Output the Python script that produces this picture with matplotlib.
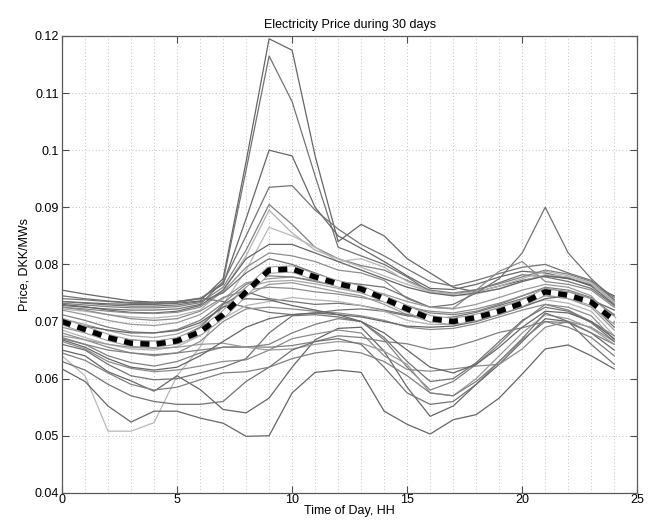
import matplotlib
matplotlib.use("Agg")
import matplotlib.pyplot as plt
from matplotlib.ticker import MultipleLocator

plt.rcParams['font.family'] = ['Liberation Sans', 'DejaVu Sans']

hours = list(range(25))

# hourly prices, one row per day
day_prices = [
    [0.0735, 0.0733, 0.0731, 0.0730, 0.0730, 0.0732, 0.0736, 0.0775, 0.0980, 0.1195, 0.1175, 0.0990, 0.0840, 0.0870, 0.0850, 0.0810, 0.0785, 0.0760, 0.0752, 0.0762, 0.0772, 0.0780, 0.0775, 0.0765, 0.0735],
    [0.0728, 0.0725, 0.0722, 0.0720, 0.0720, 0.0722, 0.0730, 0.0770, 0.0965, 0.1165, 0.1085, 0.0955, 0.0830, 0.0815, 0.0800, 0.0778, 0.0752, 0.0748, 0.0755, 0.0768, 0.0782, 0.0778, 0.0770, 0.0758, 0.0728],
    [0.0755, 0.0748, 0.0742, 0.0736, 0.0734, 0.0735, 0.0740, 0.0765, 0.0880, 0.1000, 0.0990, 0.0900, 0.0850, 0.0828, 0.0805, 0.0780, 0.0758, 0.0756, 0.0765, 0.0778, 0.0788, 0.0785, 0.0776, 0.0764, 0.0745],
    [0.0740, 0.0738, 0.0735, 0.0732, 0.0731, 0.0733, 0.0740, 0.0768, 0.0850, 0.0935, 0.0938, 0.0895, 0.0862, 0.0835, 0.0815, 0.0792, 0.0770, 0.0762, 0.0772, 0.0784, 0.0795, 0.0800, 0.0785, 0.0772, 0.0742],
    [0.0732, 0.0729, 0.0726, 0.0724, 0.0724, 0.0726, 0.0733, 0.0760, 0.0825, 0.0905, 0.0870, 0.0830, 0.0810, 0.0798, 0.0790, 0.0772, 0.0755, 0.0750, 0.0756, 0.0766, 0.0778, 0.0790, 0.0783, 0.0770, 0.0738],
    [0.0722, 0.0718, 0.0712, 0.0708, 0.0706, 0.0710, 0.0720, 0.0755, 0.0815, 0.0895, 0.0855, 0.0825, 0.0810, 0.0795, 0.0780, 0.0765, 0.0752, 0.0748, 0.0752, 0.0762, 0.0775, 0.0788, 0.0780, 0.0768, 0.0735],
    [0.0640, 0.0605, 0.0508, 0.0508, 0.0523, 0.0605, 0.0655, 0.0730, 0.0790, 0.0865, 0.0850, 0.0830, 0.0805, 0.0810, 0.0795, 0.0770, 0.0752, 0.0745, 0.0748, 0.0758, 0.0770, 0.0782, 0.0778, 0.0766, 0.0732],
    [0.0730, 0.0726, 0.0720, 0.0716, 0.0715, 0.0718, 0.0728, 0.0755, 0.0810, 0.0835, 0.0835, 0.0820, 0.0805, 0.0790, 0.0775, 0.0760, 0.0750, 0.0745, 0.0750, 0.0757, 0.0770, 0.0780, 0.0776, 0.0762, 0.0730],
    [0.0725, 0.0722, 0.0718, 0.0715, 0.0714, 0.0716, 0.0725, 0.0752, 0.0795, 0.0820, 0.0815, 0.0805, 0.0790, 0.0785, 0.0772, 0.0740, 0.0725, 0.0723, 0.0755, 0.0788, 0.0805, 0.0770, 0.0765, 0.0755, 0.0725],
    [0.0735, 0.0732, 0.0729, 0.0727, 0.0727, 0.0729, 0.0735, 0.0750, 0.0785, 0.0810, 0.0800, 0.0785, 0.0770, 0.0765, 0.0760, 0.0742, 0.0725, 0.0730, 0.0750, 0.0775, 0.0820, 0.0900, 0.0820, 0.0775, 0.0738],
    [0.0745, 0.0740, 0.0736, 0.0733, 0.0733, 0.0735, 0.0741, 0.0735, 0.0725, 0.0716, 0.0712, 0.0715, 0.0720, 0.0722, 0.0718, 0.0710, 0.0705, 0.0708, 0.0716, 0.0728, 0.0740, 0.0755, 0.0752, 0.0740, 0.0712],
    [0.0720, 0.0712, 0.0702, 0.0695, 0.0693, 0.0698, 0.0712, 0.0740, 0.0768, 0.0775, 0.0778, 0.0772, 0.0765, 0.0758, 0.0748, 0.0735, 0.0725, 0.0722, 0.0730, 0.0742, 0.0755, 0.0765, 0.0760, 0.0745, 0.0700],
    [0.0712, 0.0702, 0.0690, 0.0682, 0.0680, 0.0686, 0.0702, 0.0732, 0.0765, 0.0780, 0.0778, 0.0770, 0.0762, 0.0755, 0.0742, 0.0728, 0.0715, 0.0712, 0.0718, 0.0730, 0.0745, 0.0760, 0.0755, 0.0742, 0.0710],
    [0.0705, 0.0695, 0.0684, 0.0675, 0.0672, 0.0678, 0.0694, 0.0725, 0.0760, 0.0770, 0.0772, 0.0766, 0.0758, 0.0750, 0.0738, 0.0722, 0.0708, 0.0705, 0.0712, 0.0725, 0.0738, 0.0752, 0.0748, 0.0735, 0.0695],
    [0.0725, 0.0720, 0.0712, 0.0705, 0.0702, 0.0705, 0.0718, 0.0742, 0.0755, 0.0760, 0.0758, 0.0752, 0.0748, 0.0742, 0.0735, 0.0725, 0.0718, 0.0715, 0.0722, 0.0732, 0.0745, 0.0758, 0.0752, 0.0738, 0.0698],
    [0.0690, 0.0680, 0.0668, 0.0660, 0.0658, 0.0665, 0.0685, 0.0718, 0.0745, 0.0765, 0.0768, 0.0760, 0.0752, 0.0745, 0.0730, 0.0712, 0.0700, 0.0698, 0.0705, 0.0718, 0.0730, 0.0745, 0.0740, 0.0725, 0.0685],
    [0.0698, 0.0688, 0.0675, 0.0668, 0.0665, 0.0670, 0.0690, 0.0730, 0.0752, 0.0740, 0.0735, 0.0730, 0.0732, 0.0728, 0.0720, 0.0712, 0.0705, 0.0702, 0.0710, 0.0722, 0.0735, 0.0748, 0.0745, 0.0730, 0.0690],
    [0.0685, 0.0672, 0.0660, 0.0652, 0.0650, 0.0656, 0.0675, 0.0705, 0.0728, 0.0735, 0.0742, 0.0738, 0.0735, 0.0728, 0.0718, 0.0702, 0.0695, 0.0695, 0.0703, 0.0715, 0.0728, 0.0738, 0.0732, 0.0718, 0.0675],
    [0.0680, 0.0668, 0.0655, 0.0645, 0.0640, 0.0645, 0.0665, 0.0700, 0.0722, 0.0725, 0.0722, 0.0718, 0.0715, 0.0710, 0.0702, 0.0690, 0.0686, 0.0688, 0.0696, 0.0708, 0.0720, 0.0730, 0.0725, 0.0710, 0.0668],
    [0.0700, 0.0692, 0.0685, 0.0680, 0.0680, 0.0684, 0.0698, 0.0725, 0.0740, 0.0738, 0.0728, 0.0720, 0.0712, 0.0708, 0.0700, 0.0692, 0.0690, 0.0692, 0.0700, 0.0712, 0.0725, 0.0740, 0.0745, 0.0738, 0.0720],
    [0.0617, 0.0595, 0.0552, 0.0524, 0.0543, 0.0543, 0.0531, 0.0522, 0.0499, 0.0500, 0.0575, 0.0611, 0.0615, 0.0611, 0.0543, 0.0520, 0.0503, 0.0528, 0.0537, 0.0566, 0.0608, 0.0652, 0.0659, 0.0640, 0.0617],
    [0.0650, 0.0640, 0.0612, 0.0596, 0.0578, 0.0605, 0.0581, 0.0546, 0.0540, 0.0566, 0.0620, 0.0668, 0.0688, 0.0690, 0.0648, 0.0585, 0.0534, 0.0552, 0.0590, 0.0625, 0.0665, 0.0705, 0.0700, 0.0680, 0.0650],
    [0.0665, 0.0652, 0.0630, 0.0618, 0.0612, 0.0615, 0.0622, 0.0630, 0.0633, 0.0650, 0.0670, 0.0678, 0.0685, 0.0680, 0.0640, 0.0616, 0.0613, 0.0617, 0.0622, 0.0625, 0.0652, 0.0690, 0.0700, 0.0690, 0.0665],
    [0.0672, 0.0660, 0.0640, 0.0628, 0.0622, 0.0630, 0.0645, 0.0655, 0.0655, 0.0660, 0.0680, 0.0695, 0.0705, 0.0700, 0.0668, 0.0620, 0.0580, 0.0595, 0.0625, 0.0660, 0.0700, 0.0730, 0.0720, 0.0700, 0.0675],
    [0.0660, 0.0650, 0.0625, 0.0605, 0.0598, 0.0600, 0.0610, 0.0620, 0.0635, 0.0680, 0.0710, 0.0712, 0.0708, 0.0700, 0.0672, 0.0630, 0.0595, 0.0600, 0.0628, 0.0665, 0.0702, 0.0725, 0.0718, 0.0698, 0.0665],
    [0.0670, 0.0660, 0.0650, 0.0645, 0.0642, 0.0645, 0.0650, 0.0655, 0.0656, 0.0655, 0.0658, 0.0665, 0.0675, 0.0672, 0.0665, 0.0661, 0.0651, 0.0655, 0.0667, 0.0681, 0.0689, 0.0700, 0.0698, 0.0680, 0.0660],
    [0.0675, 0.0668, 0.0660, 0.0655, 0.0653, 0.0655, 0.0660, 0.0662, 0.0655, 0.0650, 0.0652, 0.0660, 0.0665, 0.0662, 0.0648, 0.0625, 0.0575, 0.0570, 0.0600, 0.0640, 0.0680, 0.0712, 0.0705, 0.0688, 0.0660],
    [0.0630, 0.0615, 0.0590, 0.0570, 0.0560, 0.0555, 0.0555, 0.0560, 0.0595, 0.0620, 0.0650, 0.0665, 0.0670, 0.0660, 0.0620, 0.0575, 0.0555, 0.0560, 0.0590, 0.0630, 0.0670, 0.0715, 0.0700, 0.0660, 0.0625],
    [0.0645, 0.0632, 0.0610, 0.0590, 0.0580, 0.0585, 0.0598, 0.0610, 0.0612, 0.0620, 0.0635, 0.0645, 0.0650, 0.0645, 0.0630, 0.0605, 0.0575, 0.0570, 0.0595, 0.0630, 0.0668, 0.0700, 0.0690, 0.0672, 0.0640],
    [0.0668, 0.0655, 0.0635, 0.0620, 0.0615, 0.0620, 0.0640, 0.0665, 0.0690, 0.0705, 0.0712, 0.0715, 0.0712, 0.0700, 0.0680, 0.0650, 0.0620, 0.0610, 0.0625, 0.0655, 0.0690, 0.0718, 0.0715, 0.0700, 0.0670],
]

# grey level of each day's line
day_grey = [0.40, 0.45, 0.40, 0.45, 0.50, 0.70, 0.72, 0.40, 0.55, 0.45,
            0.45, 0.60, 0.50, 0.65, 0.55, 0.60, 0.45, 0.70, 0.55, 0.40,
            0.40, 0.40, 0.55, 0.50, 0.45, 0.50, 0.60, 0.45, 0.50, 0.40]

mean_price = [0.0700, 0.0686, 0.0672, 0.0662, 0.0660, 0.0666, 0.0682, 0.0712, 0.0752, 0.0790,
              0.0792, 0.0778, 0.0766, 0.0757, 0.0740, 0.0722, 0.0705, 0.0700, 0.0707, 0.0718,
              0.0732, 0.0752, 0.0746, 0.0734, 0.0702]

fig = plt.figure(figsize=(6.5, 5.21), dpi=100)
ax = fig.add_axes([0.0954, 0.054, 0.885, 0.877])

for prices, g in zip(day_prices, day_grey):
    ax.plot(hours, prices, color=str(g), lw=0.9)

ax.plot(hours, mean_price, color='0.6', lw=5.2, solid_capstyle='butt')
ax.plot(hours, mean_price, color='black', lw=3.8, ls=(0, (1.7, 1.4)),
        gapcolor='white', dash_capstyle='butt')

ax.set_xlim(0, 25)
ax.set_ylim(0.04, 0.12)
ax.xaxis.set_major_locator(MultipleLocator(5))
ax.xaxis.set_minor_locator(MultipleLocator(1))
ax.set_yticks([0.04, 0.05, 0.06, 0.07, 0.08, 0.09, 0.10, 0.11, 0.12])
ax.set_yticklabels(['0.04', '0.05', '0.06', '0.07', '0.08', '0.09', '0.1', '0.11', '0.12'])

grid_style = dict(color='0.68', ls=(0, (1, 3)), lw=0.6)
ax.grid(which='both', axis='x', **grid_style)
ax.grid(which='major', axis='y', **grid_style)

ax.tick_params(which='major', direction='in', length=5, width=0.8, top=True, right=True,
               labelsize=9, color='0.3', pad=2)
ax.tick_params(axis='x', which='major', pad=1)
ax.tick_params(which='minor', length=0)
for s in ax.spines.values():
    s.set_color('0.35')
    s.set_linewidth(0.9)

ax.set_title('Electricity Price during 30 days', fontsize=9, pad=6)
ax.set_xlabel('Time of Day, HH', fontsize=9, labelpad=-1)
ax.set_ylabel('Price, DKK/MWs', fontsize=9, labelpad=3)

fig.savefig('out.png', dpi=100)
